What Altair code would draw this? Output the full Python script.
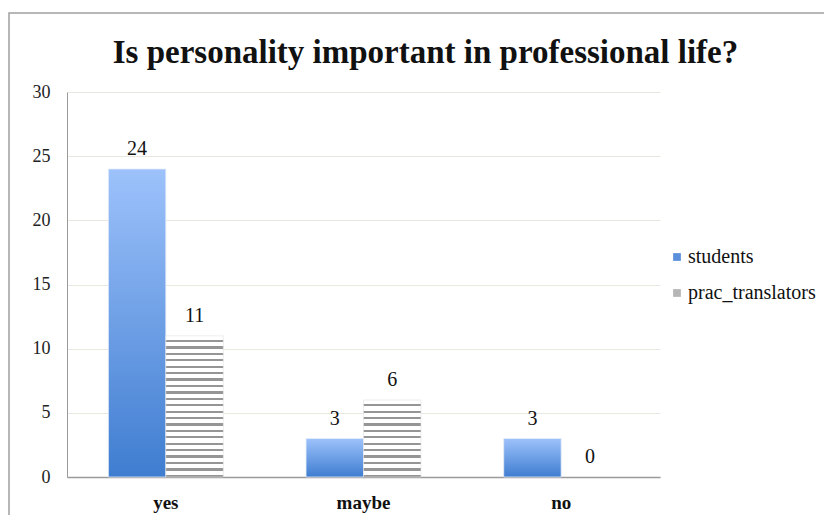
import altair as alt
import pandas as pd

categories = ["yes", "maybe", "no"]
series = ["students", "prac_translators"]
students = [24, 3, 3]
prac_translators = [11, 6, 0]

rows = []
for c, s, p in zip(categories, students, prac_translators):
    rows.append({"answer": c, "group": "students", "count": s})
    rows.append({"answer": c, "group": "prac_translators", "count": p})
df = pd.DataFrame(rows)

FONT = "Liberation Serif"
W, H = 593, 385
PAD = {"left": 67, "top": 92, "right": 824 - 67 - W, "bottom": 515 - 92 - H}

x_enc = alt.X("answer:N", sort=categories, title=None,
              scale=alt.Scale(paddingInner=0, paddingOuter=0),
              axis=alt.Axis(labelFont=FONT, labelFontSize=19, labelFontWeight="bold",
                            labelColor="#111", labelAngle=0, ticks=False,
                            labelPadding=16, domainColor="#9a9a9a", domainWidth=1.5))
xoff = alt.XOffset("group:N", sort=series,
                   scale=alt.Scale(domain=series, paddingInner=0, paddingOuter=0.72))
y_enc = alt.Y("count:Q", title=None,
              scale=alt.Scale(domain=[0, 30], nice=False),
              axis=alt.Axis(values=[0, 5, 10, 15, 20, 25, 30], labelFont=FONT,
                            labelFontSize=18, labelColor="#222", ticks=False,
                            labelPadding=17, gridColor="#e8e8df", domainColor="#9a9a9a",
                            domainWidth=1))

base = alt.Chart(df)

blue_grad = alt.Gradient(
    gradient="linear", x1=0, y1=0, x2=0, y2=1,
    stops=[alt.GradientStop(color="#9dc2fb", offset=0),
           alt.GradientStop(color="#3f7dd0", offset=1)])

stud_bars = base.transform_filter(alt.datum.group == "students").mark_bar(
    fill=blue_grad, stroke="#e4ecf8", strokeWidth=0.8
).encode(x=x_enc, xOffset=xoff, y=y_enc)

layers = [stud_bars]

# hatch pattern for practising translators: rows of dashes, ~2 rows per unit
for c, p in zip(categories, prac_translators):
    if p <= 0:
        continue
    n = int(round(p * 2))
    stops = []
    for i in range(n):
        stops += [alt.GradientStop(color="#ffffff", offset=i / n),
                  alt.GradientStop(color="#ffffff", offset=(i + 0.64) / n),
                  alt.GradientStop(color="#959595", offset=(i + 0.64) / n),
                  alt.GradientStop(color="#959595", offset=(i + 1) / n)]
    grad = alt.Gradient(gradient="linear", x1=0, y1=0, x2=0, y2=1, stops=stops)
    layers.append(
        base.transform_filter((alt.datum.group == "prac_translators") & (alt.datum.answer == c))
        .mark_bar(fill=grad, stroke="#e0e0e0", strokeWidth=0.6)
        .encode(x=x_enc, xOffset=xoff, y=y_enc)
    )

labels = base.mark_text(font=FONT, fontSize=20, color="#111", baseline="alphabetic", dy=-14).encode(
    x=x_enc, xOffset=xoff, y=y_enc, text="count:Q")
layers.append(labels)

legend_layer = base.transform_filter("false").mark_bar().encode(
    color=alt.Color("group:N", scale=alt.Scale(domain=series, range=["#5a8fdc", "#b5b5b5"]),
                    legend=alt.Legend(title=None, orient="none", legendX=600, legendY=155,
                                      symbolType="square", symbolSize=60, labelFont=FONT,
                                      labelFontSize=20, labelColor="#111", rowPadding=16,
                                      labelOffset=1, symbolStrokeWidth=0))
)
layers.append(legend_layer)

frame = alt.Chart(pd.DataFrame({"v": [0]})).mark_rect(
    fill=None, stroke="#a0a0a0", strokeWidth=1.5
).encode(x=alt.value(9 - 67), x2=alt.value(824 - 67 + 20),
         y=alt.value(13 - 92), y2=alt.value(515 - 92 + 20))

chart = alt.layer(frame, *layers).properties(
    width=W, height=H,
    autosize=alt.AutoSizeParams(type="none"),
    padding=PAD,
    title=alt.Title("Is personality important in professional life?", font=FONT,
                    fontSize=33, fontWeight="bold", color="#111", anchor="middle",
                    frame="group", dx=62, offset=-58),
).configure(font=FONT).configure_view(stroke=None).configure_axis(grid=True).configure_axisX(grid=False)

chart.save("out.html", embed_options={"renderer": "svg", "actions": False})
